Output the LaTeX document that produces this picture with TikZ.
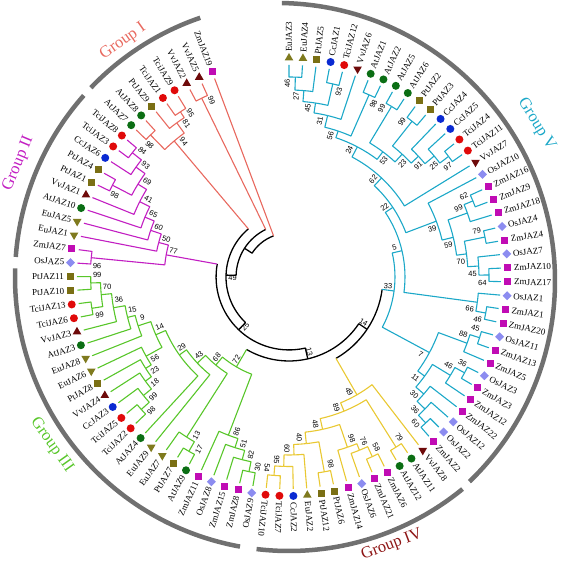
\documentclass[tikz,border=0pt]{standalone}
\usepackage{fontspec}
\setmainfont{Liberation Serif}
\setsansfont{Liberation Sans}
\usetikzlibrary{calc,shapes.geometric,positioning}

\definecolor{gI}{HTML}{E8695F}
\definecolor{gII}{HTML}{C21EC2}
\definecolor{gIII}{HTML}{58C62A}
\definecolor{gIV}{HTML}{E9C832}
\definecolor{gIVtext}{HTML}{8E1616}
\definecolor{gV}{HTML}{1CA8C8}
\definecolor{arcgray}{HTML}{707070}
\definecolor{cAt}{HTML}{0B6E14}
\definecolor{cTci}{HTML}{E00A0A}
\definecolor{cCc}{HTML}{0A2AD2}
\definecolor{cPt}{HTML}{7A6F14}
\definecolor{cEu}{HTML}{7F7A1E}
\definecolor{cVv}{HTML}{6E0A0A}
\definecolor{cOs}{HTML}{8C8CF0}
\definecolor{cZm}{HTML}{C00CB4}

\begin{document}
\begin{tikzpicture}[x=1pt,y=1pt,
    stem/.style={to path={let \p1=(\tikztostart), \p2=(\tikztotarget),
      \n1={atan2(\y1,\x1)}, \n2={veclen(\x2,\y2)}, \n3={atan2(\y2,\x2)},
      \n4={mod(\n3-\n1+540,360)-180} in
      -- (\n1:\n2) arc[start angle=\n1, delta angle=\n4, radius=\n2]}},
    ringarc/.style={to path={let \p1=(\tikztostart), \p2=(\tikztotarget),
      \n1={atan2(\y1,\x1)}, \n2={veclen(\x2,\y2)}, \n3={atan2(\y2,\x2)},
      \n4={mod(\n3-\n1+540,360)-180} in
      (\n1:\n2) arc[start angle=\n1, delta angle=\n4, radius=\n2]}},
    spoke/.style={to path={let \p1=(\tikztostart), \p2=(\tikztotarget),
      \n1={atan2(\y1,\x1)}, \n2={veclen(\x2,\y2)} in -- (\n1:\n2)}},
    branch/.style={line width=1.1pt, line join=round},
    core/.style={line width=1.3pt, black, line join=round},
    mk/.style={draw=none, inner sep=0pt, outer sep=0pt},
    sAt/.style={mk, circle, fill=cAt, minimum size=8pt},
    sTci/.style={mk, circle, fill=cTci, minimum size=8pt},
    sCc/.style={mk, circle, fill=cCc, minimum size=8pt},
    sPt/.style={mk, rectangle, fill=cPt, minimum size=7pt},
    sZm/.style={mk, rectangle, fill=cZm, minimum size=7pt},
    sOs/.style={mk, diamond, fill=cOs, minimum size=9pt},
    sEu/.style={mk, regular polygon, regular polygon sides=3, fill=cEu, minimum size=10pt},
    sVv/.style={mk, regular polygon, regular polygon sides=3, fill=cVv, minimum size=10pt, rotate=180},
    leaf/.style={inner sep=0pt, font=\fontsize{9}{10}\selectfont},
    boot/.style={inner sep=0pt, font=\sffamily\fontsize{7.5}{8}\selectfont},
    grp/.style={inner sep=0pt, font=\fontsize{16.5}{18}\selectfont},
    grparc/.style={arcgray, line width=4.5pt}]

  \useasboundingbox (-289,-283) rectangle (276,277);

  \foreach \cn/\ca/\cr in {
    n46/88.175/200, n27/85.44/187, n93/77.225/198, n45/81.33/176, n31/76.54/166,
    n98v/66.275/199, n56/71.41/154, n99v/58.975/199, n99w/51.675/198.5, n97/37.075/200,
    n25v/39.81/189, n91/43.005/177, n23/47.34/167, n53/53.16/156.5, n24/62.285/147,
    n62/46.94/136, n62b/22.475/199, n99c/19.74/189.5, n79/11.525/200, n64/0.575/200,
    n45b/3.31/190, n70/7.42/179, n59/13.58/169, n39/20.765/157.5, n22/33.85/125,
    n46b/-10.375/200, n66/-7.64/190, n5/13.1/116, n45c/-17.675/200, n88/-20.41/190,
    n36/-28.625/200, n46c/-31.36/189, n60/-46.875/200, n36b/-44.14/189.5,
    n30/-40.945/178.5, n11/-36.15/168, n7/-28.28/159.5, n33/-7.59/106,
    n54d/-94.325/199, n95d/-91.59/189.5, n60d/-88.39/178, n98d/-79.725/198,
    n40d/-84.06/167.5, n58d/-65.125/198, n76d/-67.86/187, n98e/-71.06/180,
    n48d/-77.56/156, n79d/-57.825/201, n89d/-67.69/145, n49d/-60.02/136,
    n99t/-178.275/198.3, n99u/-170.975/199.6, n70c/-174.625/188.6, n36c/-170.06/178.2,
    n15c/-165.96/166.4, n9c/-162.08/158.6, n98c/-138.125/198.4, n99g/-140.86/187.7,
    n18c/-144.06/177.4, n23c/-147.48/170, n56c/-151.01/163.4, n14c/-156.55/145.2,
    n29c/-144.6/134.5, n43c/-136.8/125.8, n17c/-119.875/201, n13c/-122.61/190,
    n68c/-129.71/114.7, n30c/-101.625/198.7, n82c/-104.36/188.6, n51c/-107.56/179,
    n86c/-110.98/169.4, n72c/-120.34/104.2,
    n96b/-185.575/198.7, n84b/-218.425/200, n93b/-215.69/188.4, n98b/-207.475/199,
    n69b/-211.58/177.3, n41b/-206.79/167.2, n65b/-202.57/156, n60b/-198.635/146,
    n50b/-194.84/134.8, n77b/-190.21/124.8,
    n98a/-225.725/198.4, n95a/-236.675/197.7, n81a/-233.94/190.7, n94a/-229.83/178,
    n99i/-243.975/199,
    cR/-231.15/44, cA/-212.855/53, cB/-181.735/63, c25/-133.64/73, c13/-77.07/84,
    c14/-33.805/94}
    \coordinate (\cn) at (\ca:\cr pt);

  \foreach \k/\lf/\sty/\pn/\gc in {
    0/EuJAZ3/sEu/n46/gV, 1/EuJAZ4/sEu/n46/gV, 2/PtJAZ5/sPt/n27/gV, 3/CcJAZ1/sCc/n93/gV,
    4/TciJAZ12/sTci/n93/gV, 5/VvJAZ6/sVv/n31/gV, 6/AtJAZ1/sAt/n98v/gV, 7/AtJAZ2/sAt/n98v/gV,
    8/AtJAZ5/sAt/n99v/gV, 9/AtJAZ6/sAt/n99v/gV, 10/PtJAZ2/sPt/n99w/gV, 11/PtJAZ3/sPt/n99w/gV,
    12/CcJAZ4/sCc/n91/gV, 13/CcJAZ5/sCc/n25v/gV, 14/TciJAZ4/sTci/n97/gV, 15/TciJAZ11/sTci/n97/gV,
    16/VvJAZ7/sVv/n62/gV, 17/OsJAZ10/sOs/n39/gV, 18/ZmJAZ16/sZm/n62b/gV, 19/ZmJAZ9/sZm/n62b/gV,
    20/ZmJAZ18/sZm/n99c/gV, 21/OsJAZ4/sOs/n79/gV, 22/ZmJAZ4/sZm/n79/gV, 23/OsJAZ7/sOs/n45b/gV,
    24/ZmJAZ10/sZm/n64/gV, 25/ZmJAZ17/sZm/n64/gV, 26/OsJAZ1/sOs/n66/gV, 27/ZmJAZ1/sZm/n46b/gV,
    28/ZmJAZ20/sZm/n46b/gV, 29/OsJAZ11/sOs/n45c/gV, 30/ZmJAZ13/sZm/n45c/gV, 31/ZmJAZ5/sZm/n88/gV,
    32/OsJAZ3/sOs/n36/gV, 33/ZmJAZ3/sZm/n36/gV, 34/ZmJAZ12/sZm/n46c/gV, 35/ZmJAZ22/sZm/n30/gV,
    36/OsJAZ12/sOs/n36b/gV, 37/OsJAZ2/sOs/n60/gV, 38/ZmJAZ2/sZm/n60/gV,
    39/VvJAZ8/sVv/n49d/gIV, 40/AtJAZ11/sAt/n79d/gIV, 41/AtJAZ12/sAt/n79d/gIV,
    42/ZmJAZ6/sZm/n58d/gIV, 43/ZmJAZ21/sZm/n58d/gIV, 44/OsJAZ6/sOs/n76d/gIV,
    45/ZmJAZ14/sZm/n98e/gIV, 46/PtJAZ6/sPt/n98d/gIV, 47/PtJAZ12/sPt/n98d/gIV,
    48/EuJAZ2/sEu/n60d/gIV, 49/CcJAZ2/sCc/n95d/gIV, 50/TciJAZ7/sTci/n54d/gIV,
    51/TciJAZ10/sTci/n54d/gIV} {
    \pgfmathsetmacro\ang{90-3.65*\k}
    \coordinate (\lf) at (\ang:212pt);
    \draw[branch, \gc] (\lf) to[stem] (\pn);
    \node[\sty] (m\lf) at (\ang:219pt) {};
    \node[leaf, anchor=west, rotate=\ang] (t\lf) at (\ang:225pt) {\lf};
  }

  \foreach \k/\lf/\sty/\pn/\gc in {
    52/OsJAZ9/sOs/n30c/gIII, 53/ZmJAZ8/sZm/n30c/gIII, 54/ZmJAZ15/sZm/n82c/gIII,
    55/OsJAZ8/sOs/n51c/gIII, 56/ZmJAZ11/sZm/n86c/gIII, 57/AtJAZ9/sAt/n17c/gIII,
    58/PtJAZ7/sPt/n17c/gIII, 59/EuJAZ7/sEu/n13c/gIII, 60/EuJAZ9/sEu/n43c/gIII,
    61/AtJAZ4/sAt/n29c/gIII, 62/TciJAZ2/sTci/n98c/gIII, 63/TciJAZ5/sTci/n98c/gIII,
    64/CcJAZ3/sCc/n99g/gIII, 65/VvJAZ4/sVv/n18c/gIII, 66/PtJAZ8/sPt/n23c/gIII,
    67/EuJAZ6/sEu/n56c/gIII, 68/EuJAZ8/sEu/n9c/gIII, 69/AtJAZ3/sAt/n15c/gIII,
    70/VvJAZ3/sVv/n36c/gIII, 71/TciJAZ6/sTci/n99u/gIII, 72/TciJAZ13/sTci/n99u/gIII,
    73/PtJAZ10/sPt/n99t/gIII, 74/PtJAZ11/sPt/n99t/gIII,
    75/OsJAZ5/sOs/n96b/gII, 76/ZmJAZ7/sZm/n96b/gII, 77/EuJAZ1/sEu/n50b/gII,
    78/EuJAZ5/sEu/n60b/gII, 79/AtJAZ10/sAt/n65b/gII, 80/VvJAZ1/sVv/n41b/gII,
    81/PtJAZ1/sPt/n98b/gII, 82/PtJAZ4/sPt/n98b/gII, 83/CcJAZ6/sCc/n93b/gII,
    84/TciJAZ3/sTci/n84b/gII, 85/TciJAZ8/sTci/n84b/gII,
    86/AtJAZ7/sAt/n98a/gI, 87/AtJAZ8/sAt/n98a/gI, 88/PtJAZ9/sPt/n81a/gI,
    89/TciJAZ1/sTci/n95a/gI, 90/TciJAZ9/sTci/n95a/gI, 91/VvJAZ2/sVv/n99i/gI,
    92/VvJAZ5/sVv/n99i/gI} {
    \pgfmathsetmacro\ang{90-3.65*\k}
    \coordinate (\lf) at (\ang:212pt);
    \draw[branch, \gc] (\lf) to[stem] (\pn);
    \node[\sty, rotate=180] (m\lf) at (\ang:219pt) {};
    \node[leaf, anchor=east, rotate=\ang+180] (t\lf) at (\ang:225pt) {\lf};
  }
  \coordinate (ZmJAZ19) at (-249.45:212pt);
  \node[sZm] (mZmJAZ19) at (-249.45:219pt) {};
  \node[leaf, anchor=east, rotate=-69.45] (tZmJAZ19) at (-249.45:225pt) {ZmJAZ19};

  \foreach \cn/\pn/\bv/\gc in {
    n46/n27/46/gV, n27/n45/27/gV, n93/n45/93/gV, n45/n31/45/gV, n31/n56/31/gV,
    n98v/n56/98/gV, n56/n24/56/gV, n99v/n53/99/gV, n99w/n23/99/gV, n97/n25v/97/gV,
    n25v/n91/25/gV, n91/n23/91/gV, n23/n53/23/gV, n53/n24/53/gV, n24/n62/24/gV,
    n62/n22/62/gV, n62b/n99c/62/gV, n99c/n59/99/gV, n79/n70/79/gV, n64/n45b/64/gV,
    n45b/n70/45/gV, n70/n59/70/gV, n59/n39/59/gV, n39/n22/39/gV, n22/n5/22/gV,
    n46b/n66/46/gV, n66/n5/66/gV, n5/n33/5/gV, n45c/n88/45/gV, n88/n7/88/gV,
    n36/n46c/36/gV, n46c/n11/46/gV, n60/n36b/60/gV, n36b/n30/36/gV, n30/n11/30/gV,
    n11/n7/11/gV, n7/n33/7/gV,
    n54d/n95d/54/gIV, n95d/n60d/95/gIV, n60d/n40d/60/gIV, n98d/n40d/98/gIV,
    n40d/n48d/40/gIV, n58d/n76d/58/gIV, n76d/n98e/76/gIV, n98e/n48d/98/gIV,
    n48d/n89d/48/gIV, n79d/n89d/79/gIV, n89d/n49d/89/gIV,
    n99t/n70c/99/gIII, n99u/n70c/99/gIII, n70c/n36c/70/gIII, n36c/n15c/36/gIII,
    n15c/n9c/15/gIII, n9c/n14c/9/gIII, n98c/n99g/98/gIII, n99g/n18c/99/gIII,
    n18c/n23c/18/gIII, n23c/n56c/23/gIII, n56c/n14c/56/gIII, n14c/n29c/14/gIII,
    n29c/n43c/29/gIII, n43c/n68c/43/gIII, n17c/n13c/17/gIII, n13c/n68c/13/gIII,
    n68c/n72c/68/gIII, n30c/n82c/30/gIII, n82c/n51c/82/gIII, n51c/n86c/51/gIII,
    n86c/n72c/86/gIII,
    n84b/n93b/84/gII, n93b/n69b/93/gII, n98b/n69b/98/gII, n69b/n41b/69/gII,
    n41b/n65b/41/gII, n65b/n60b/65/gII, n60b/n50b/60/gII, n50b/n77b/50/gII,
    n96b/n77b/96/gII,
    n98a/n94a/98/gI, n95a/n81a/95/gI, n81a/n94a/81/gI,
    cB/cA/49/core, c25/cB/25/core, c13/c25/13/core, c14/c13/14/core} {
    \draw[branch, \gc] (\cn) to[stem] (\pn);
    \path let \p1=(\cn), \p2=(\pn), \n1={atan2(\y1,\x1)}, \n2={atan2(\y2,\x2)},
      \n3={\n1+2.3*sign(mod(\n1-\n2+540,360)-180)}, \n4={veclen(\x1,\y1)-6.5},
      \n5={ifthenelse(cos(\n3)<-0.139,\n3+180,\n3)} in
      node[boot, rotate=\n5] at (\n3:\n4) {\bv};
  }

  \draw[core] (cA) to[stem] (cR);
  \draw[core] (ZmJAZ19) to[ringarc] (cR);
  \draw[branch, gI] (ZmJAZ19) to[spoke] (cR);

  \foreach \cn/\pn/\bv/\gc in {n94a/cB/94/gI, n99i/cA/99/gI, n77b/c25/77/gII,
    n72c/c13/72/gIII, n49d/c14/49/gIV, n33/c14/33/gV} {
    \draw[core] (\cn) to[ringarc] (\pn);
    \draw[branch, \gc] (\cn) to[spoke] (\pn);
    \path let \p1=(\cn), \p2=(\pn), \n1={atan2(\y1,\x1)}, \n2={atan2(\y2,\x2)},
      \n3={\n1+2.3*sign(mod(\n1-\n2+540,360)-180)}, \n4={veclen(\x1,\y1)-6.5},
      \n5={ifthenelse(cos(\n3)<-0.139,\n3+180,\n3)} in
      node[boot, rotate=\n5] at (\n3:\n4) {\bv};
  }

  \draw[grparc] (-12,-4) ++(89:278pt) arc[start angle=89, end angle=-46.2, radius=278pt];
  \draw[grparc] (-50.7:274pt) arc[start angle=-50.7, end angle=-96.8, radius=274pt];
  \draw[grparc] (-100.3:274pt) arc[start angle=-100.3, end angle=-181.8, radius=274pt];
  \draw[grparc] (-184.2:274pt) arc[start angle=-184.2, end angle=-221.5, radius=274pt];
  \draw[grparc] (-223.7:274pt) arc[start angle=-223.7, end angle=-251.1, radius=274pt];

  \node[grp, text=gI, rotate=35.2] (grpI) at (125.2:288pt) {Group I};
  \node[grp, text=gII, rotate=67.2] (grpII) at (157.2:293.6pt) {Group II};
  \node[grp, text=gIII, rotate=-54.7] (grpIII) at (-144.7:290.7pt) {Group III};
  \node[grp, text=gIVtext, rotate=21] (grpIV) at (-69:287pt) {Group IV};
  \node[grp, text=gV, rotate=-58.3] (grpV) at (31.7:291pt) {Group V};
\end{tikzpicture}
\end{document}
